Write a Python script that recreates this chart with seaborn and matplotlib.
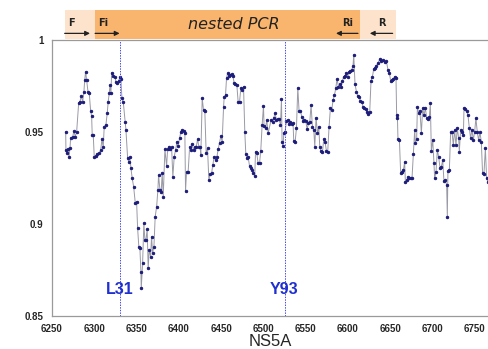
import numpy as np
import pandas as pd
import matplotlib
matplotlib.use('Agg')
import matplotlib.pyplot as plt
from matplotlib.patches import Rectangle
import seaborn as sns

# posiciones (nt) y valores
pos = [6266.2, 6266.5, 6267.4, 6268.9, 6270.1, 6271.3, 6272.1, 6274.5, 6276.0, 6277.5, 6279.2,
       6281.6, 6283.1, 6284.6, 6286.3, 6287.8, 6288.7, 6289.8, 6291.0, 6292.6, 6294.1, 6295.7,
       6296.9, 6297.6, 6298.8, 6300.0, 6302.0, 6303.5, 6305.9, 6307.6, 6309.1, 6310.6, 6311.8,
       6313.8, 6315.4, 6316.5, 6317.7, 6318.6, 6319.7, 6320.6, 6322.5, 6324.5, 6325.6, 6327.2,
       6328.8, 6330.4, 6331.6, 6332.7, 6334.3, 6336.6, 6337.5, 6339.5, 6340.7, 6342.2, 6343.4,
       6344.9, 6346.6, 6348.5, 6350.1, 6351.3, 6352.8, 6354.0, 6355.2, 6355.6, 6357.2, 6358.7,
       6359.9, 6361.1, 6362.6, 6363.8, 6365.0, 6366.7, 6367.8, 6369.0, 6370.6, 6372.1, 6373.8,
       6375.3, 6376.1, 6377.7, 6379.2, 6380.4, 6381.6,
       6383.6, 6385.6, 6386.8, 6388.3, 6389.8, 6391.5, 6393.0, 6394.6, 6396.2, 6397.8, 6399.3,
       6400.9, 6402.5, 6404.0, 6405.7, 6407.2, 6408.0, 6409.2, 6411.1, 6412.8, 6414.3, 6415.8,
       6417.5, 6419.0, 6420.6, 6422.2, 6423.8, 6425.3, 6426.1, 6427.7, 6429.3, 6430.8, 6432.4,
       6434.0, 6435.6, 6437.1, 6438.8, 6440.3, 6441.8, 6443.5, 6445.0, 6446.6, 6448.2, 6449.8,
       6451.3, 6453.0, 6453.7, 6455.3, 6456.5, 6457.7, 6459.2, 6460.8, 6462.4, 6463.9, 6465.5,
       6467.1, 6468.7, 6470.2, 6471.9, 6473.4, 6474.9, 6476.6, 6478.1, 6479.3, 6480.5, 6482.0,
       6483.7, 6485.2, 6486.8, 6488.4, 6489.9, 6490.8, 6492.3, 6493.8, 6495.5, 6497.0, 6498.6,
       6500.2, 6500.9, 6502.6, 6504.1, 6505.7,
       6509.2, 6510.9, 6512.4, 6513.9, 6515.6, 6517.1, 6518.7, 6520.3, 6521.5, 6522.2, 6523.4,
       6524.2, 6525.8, 6527.4, 6529.0, 6530.5, 6532.1, 6533.7, 6535.2, 6536.0, 6537.6, 6539.2,
       6540.8, 6542.3, 6544.0, 6545.5, 6547.0, 6548.7, 6550.2, 6551.8, 6553.4, 6555.0, 6556.5,
       6558.1, 6559.7, 6560.9, 6562.4, 6564.1, 6565.6, 6566.8, 6568.3, 6570.0, 6571.5, 6573.0,
       6574.7, 6576.2, 6577.8, 6579.4, 6581.0, 6582.5, 6584.2, 6585.7, 6587.2, 6588.9, 6590.4,
       6592.0, 6593.6, 6595.1, 6596.7, 6598.3, 6599.9, 6601.4, 6603.1, 6604.6, 6606.1, 6607.0,
       6608.5, 6610.2, 6611.7, 6613.2, 6614.9, 6616.4, 6618.0, 6619.6, 6621.1, 6622.7, 6624.3,
       6625.9, 6627.4, 6629.1, 6630.6, 6631.8,
       6633.8, 6635.7, 6637.7, 6639.7, 6641.6, 6643.6, 6645.6, 6647.5, 6649.2, 6650.7, 6652.2,
       6653.9, 6655.4, 6657.0, 6657.8, 6658.6, 6659.3, 6661.0, 6662.5, 6664.1, 6665.7, 6667.2,
       6668.1, 6669.6, 6671.2, 6672.8, 6674.3, 6675.9, 6677.5, 6679.1, 6679.9, 6681.4, 6682.3,
       6683.8, 6685.3, 6687.0, 6688.5, 6690.1, 6691.7, 6693.3, 6694.8, 6696.5, 6697.6, 6698.8,
       6700.4, 6701.9, 6702.7, 6704.3, 6705.9, 6707.4, 6709.0, 6710.7, 6712.2, 6713.7, 6715.4,
       6716.9, 6717.7, 6718.4, 6720.1, 6721.6, 6723.2, 6724.8, 6726.3, 6727.9, 6729.5, 6731.1,
       6731.9, 6733.4, 6735.0, 6736.7, 6737.4, 6739.0, 6740.5, 6742.1, 6743.7, 6745.2, 6746.8,
       6748.5, 6750.0, 6751.5, 6753.2, 6754.7, 6756.3, 6757.9, 6759.4, 6761.0, 6762.7, 6764.2,
       6765.7]

valor = [0.9502, 0.9402, 0.9386, 0.9408, 0.9364, 0.9413, 0.9467, 0.9474, 0.9507, 0.9473, 0.9502,
         0.9659, 0.9665, 0.9696, 0.9665, 0.9719, 0.9783, 0.9828, 0.9783, 0.9719, 0.9710, 0.9616,
         0.9587, 0.9484, 0.9484, 0.9366, 0.9370, 0.9380, 0.9384, 0.9402, 0.9460, 0.9417, 0.9529,
         0.9538, 0.9605, 0.9665, 0.9710, 0.9755, 0.9710, 0.9822, 0.9804, 0.9801, 0.9773, 0.9765,
         0.9779, 0.9797, 0.9786, 0.9683, 0.9665, 0.9556, 0.9511, 0.9357, 0.9339, 0.9362, 0.9303,
         0.9248, 0.9203, 0.9116, 0.9121, 0.8977, 0.8873, 0.8868, 0.8741, 0.8650, 0.8786, 0.9004,
         0.8913, 0.8913, 0.8971, 0.8759, 0.8859, 0.8822, 0.8931, 0.8844, 0.8877, 0.9040, 0.9094,
         0.9185, 0.9266, 0.9185, 0.9176, 0.9276, 0.9148,
         0.9406, 0.9315, 0.9406, 0.9420, 0.9406, 0.9417, 0.9257, 0.9366, 0.9402, 0.9447, 0.9424,
         0.9466, 0.9502, 0.9511, 0.9507, 0.9496, 0.9181, 0.9284, 0.9284, 0.9417, 0.9402, 0.9435,
         0.9402, 0.9420, 0.9417, 0.9460, 0.9420, 0.9417, 0.9375, 0.9683, 0.9620, 0.9616, 0.9384,
         0.9411, 0.9239, 0.9272, 0.9276, 0.9321, 0.9366, 0.9348, 0.9362, 0.9406, 0.9442, 0.9478,
         0.9447, 0.9637, 0.9689, 0.9701, 0.9792, 0.9819, 0.9804, 0.9810, 0.9815, 0.9804, 0.9768,
         0.9761, 0.9755, 0.9665, 0.9665, 0.9737, 0.9728, 0.9746, 0.9502, 0.9380, 0.9357, 0.9366,
         0.9315, 0.9303, 0.9293, 0.9276, 0.9261, 0.9393, 0.9384, 0.9330, 0.9330, 0.9398, 0.9538,
         0.9641, 0.9533, 0.9520, 0.9565, 0.9493,
         0.9565, 0.9553, 0.9578, 0.9602, 0.9565, 0.9571, 0.9571, 0.9538, 0.9679, 0.9447, 0.9426,
         0.9493, 0.9502, 0.9560, 0.9565, 0.9542, 0.9553, 0.9542, 0.9547, 0.9451, 0.9444, 0.9520,
         0.9741, 0.9614, 0.9614, 0.9583, 0.9560, 0.9565, 0.9560, 0.9516, 0.9547, 0.9556, 0.9647,
         0.9529, 0.9511, 0.9420, 0.9578, 0.9493, 0.9529, 0.9420, 0.9397, 0.9390, 0.9462, 0.9447,
         0.9397, 0.9393, 0.9529, 0.9632, 0.9620, 0.9674, 0.9701, 0.9737, 0.9788, 0.9746, 0.9759,
         0.9746, 0.9777, 0.9801, 0.9806, 0.9819, 0.9801, 0.9828, 0.9832, 0.9837, 0.9860, 0.9918,
         0.9759, 0.9719, 0.9697, 0.9692, 0.9668, 0.9665, 0.9637, 0.9629, 0.9625, 0.9607, 0.9596,
         0.9610, 0.9777, 0.9801, 0.9842, 0.9849,
         0.9860, 0.9873, 0.9897, 0.9886, 0.9891, 0.9882, 0.9886, 0.9837, 0.9819, 0.9777, 0.9783,
         0.9788, 0.9801, 0.9792, 0.9574, 0.9592, 0.9462, 0.9457, 0.9276, 0.9284, 0.9293, 0.9335,
         0.9227, 0.9239, 0.9257, 0.9248, 0.9252, 0.9248, 0.9379, 0.9511, 0.9439, 0.9462, 0.9637,
         0.9602, 0.9614, 0.9493, 0.9629, 0.9592, 0.9629, 0.9578, 0.9571, 0.9583, 0.9656, 0.9397,
         0.9457, 0.9330, 0.9248, 0.9284, 0.9402, 0.9366, 0.9306, 0.9311, 0.9348, 0.9234, 0.9239,
         0.9212, 0.9040, 0.9288, 0.9293, 0.9498, 0.9502, 0.9429, 0.9511, 0.9429, 0.9520, 0.9466,
         0.9393, 0.9511, 0.9498, 0.9484, 0.9629, 0.9625, 0.9614, 0.9592, 0.9523, 0.9466, 0.9511,
         0.9457, 0.9502, 0.9574, 0.9498, 0.9457, 0.9498, 0.9447, 0.9276, 0.9270, 0.9411, 0.9248,
         0.9230]

# mutaciones marcadas
mut_labels = ['L31', 'Y93']
mut_pos = [6331, 6526]

# cebadores y region de PCR anidada
primers = ['F', 'Fi', 'Ri', 'R']
primer_start = [6265, 6301, 6612, 6653]
primer_end = [6295, 6330, 6586, 6626]
outer_region = (6265, 6657)
nested_region = (6301, 6614)

yticks = [0.85, 0.9, 0.95, 1]
ytick_labels = ['0.85', '0.9', '0.95', '1']
xticks = [6250, 6300, 6350, 6400, 6450, 6500, 6550, 6600, 6650, 6700, 6750]

df = pd.DataFrame({'pos': pos, 'valor': valor})

sns.set_style('white')
plt.rcParams['font.family'] = ['Liberation Sans', 'DejaVu Sans']
fig = plt.figure(figsize=(4.89, 3.49), dpi=100)
ax = fig.add_axes([0.1063, 0.0946, 0.8937, 0.7908])

sns.lineplot(x='pos', y='valor', data=df, ax=ax, color='#9a9aa6', linewidth=0.7,
             marker='o', markersize=1.7, markerfacecolor='#1c1c7a', markeredgecolor='#1c1c7a')

ax.set_xlim(6250, 6767)
ax.set_ylim(0.85, 1)
ax.set_xticks(xticks)
ax.set_xticklabels([str(t) for t in xticks], fontsize=7, fontweight='bold')
ax.set_yticks(yticks)
ax.set_yticklabels(ytick_labels, fontsize=7, fontweight='bold')
ax.tick_params(axis='both', length=3, width=0.8, color='#808080', direction='out', pad=3)
ax.set_xlabel('NS5A', fontsize=12, labelpad=0)
ax.set_ylabel('')

for s in ['left', 'bottom', 'top']:
    ax.spines[s].set_color('#9a9a9a')
    ax.spines[s].set_linewidth(0.9)
ax.spines['right'].set_visible(False)

# lineas verticales de mutaciones
for lab, p in zip(mut_labels, mut_pos):
    ax.axvline(p, color='#4a4ae6', linestyle=(0, (1.5, 1.2)), linewidth=0.7)
    ax.text(p - 1, 0.8645, lab, color='#1f2fd0', fontsize=11.5, fontweight='bold',
            ha='center', va='center')

# banda de PCR sobre el grafico
trans = ax.get_xaxis_transform()
ax.add_patch(Rectangle((outer_region[0], 1.004), outer_region[1] - outer_region[0], 0.105,
                       transform=trans, facecolor='#fde3cb', edgecolor='none', clip_on=False))
ax.add_patch(Rectangle((nested_region[0], 1.004), nested_region[1] - nested_region[0], 0.105,
                       transform=trans, facecolor='#f9b46e', edgecolor='none', clip_on=False))
ax.text((nested_region[0] + nested_region[1]) / 2 + 8, 1.056, 'nested PCR', transform=trans,
        fontsize=11.5, fontstyle='italic', ha='center', va='center', color='#222222',
        family=['DejaVu Sans'])

for name, a, b in zip(primers, primer_start, primer_end):
    ax.annotate('', xy=(b, 1.024), xytext=(a, 1.024), xycoords=trans, textcoords=trans,
                arrowprops=dict(arrowstyle='-|>', color='#222222', lw=0.9,
                                mutation_scale=7, shrinkA=0, shrinkB=0),
                annotation_clip=False)
    lx = a + 4 if b > a else b + 14
    ax.text(lx, 1.06, name, transform=trans, fontsize=7, fontweight='bold',
            ha='left' if b > a else 'center', va='center', color='#222222',
            family=['DejaVu Sans'])

fig.savefig('out.png', dpi=100)
